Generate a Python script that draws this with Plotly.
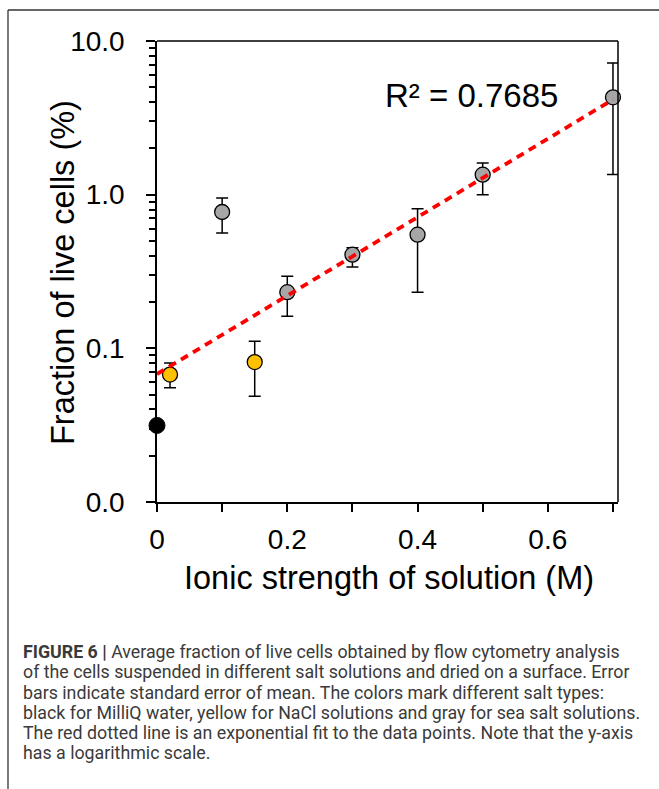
import plotly.graph_objects as go

# ---- data ----
water_x = [0.0]
water_y = [0.0315]

nacl_x = [0.02, 0.15]
nacl_y = [0.0675, 0.0814]
nacl_err_plus = [0.0127, 0.0296]
nacl_err_minus = [0.0120, 0.0327]

sea_x = [0.1, 0.2, 0.3, 0.4, 0.5, 0.7]
sea_y = [0.771, 0.232, 0.407, 0.549, 1.35, 4.30]
sea_err_plus = [0.179, 0.062, 0.045, 0.262, 0.26, 2.88]
sea_err_minus = [0.209, 0.070, 0.069, 0.317, 0.35, 2.945]

fit_x = [0.0, 0.7]
fit_y = [0.068, 4.16]

y_tickvals = [0.01, 0.1, 1, 10]
y_ticktext = ["0.0", "0.1", "1.0", "10.0"]
x_tickvals = [0, 0.2, 0.4, 0.6]
x_ticktext = ["0", "0.2", "0.4", "0.6"]
x_minor = [0.1, 0.3, 0.5, 0.7]

r2_text = "R² = 0.7685"
x_title = "Ionic strength of solution (M)"
y_title = "Fraction of live cells (%)"
caption_lines = [
    "<b>FIGURE 6 |</b> Average fraction of live cells obtained by flow cytometry analysis",
    "of the cells suspended in different salt solutions and dried on a surface. Error",
    "bars indicate standard error of mean. The colors mark different salt types:",
    "black for MilliQ water, yellow for NaCl solutions and gray for sea salt solutions.",
    "The red dotted line is an exponential fit to the data points. Note that the y-axis",
    "has a logarithmic scale.",
]

W, H = 659, 789
L, R, T, B = 157, 41, 41, 287
pw, ph = W - L - R, H - T - B


def px(xp):
    return (xp - L) / pw


def py(yp):
    return (H - B - yp) / ph


y_minor = [k * 10 ** d for d in (-2, -1, 0) for k in range(2, 10)]

fig = go.Figure()

err_style = dict(type="data", color="black", thickness=1.5, width=6)

fig.add_trace(go.Scatter(
    x=sea_x, y=sea_y, mode="markers",
    marker=dict(size=15, color="#A6A6A6", line=dict(color="black", width=1.3)),
    error_y=dict(array=sea_err_plus, arrayminus=sea_err_minus, symmetric=False, **err_style),
    cliponaxis=False, showlegend=False,
))
fig.add_trace(go.Scatter(
    x=nacl_x, y=nacl_y, mode="markers",
    marker=dict(size=15, color="#FFC000", line=dict(color="black", width=1.3)),
    error_y=dict(array=nacl_err_plus, arrayminus=nacl_err_minus, symmetric=False, **err_style),
    cliponaxis=False, showlegend=False,
))
fig.add_trace(go.Scatter(
    x=water_x, y=water_y, mode="markers",
    marker=dict(size=16, color="black", line=dict(color="black", width=1)),
    cliponaxis=False, showlegend=False,
))
fig.add_trace(go.Scatter(
    x=fit_x, y=fit_y, mode="lines",
    line=dict(color="#FF0000", width=3.8, dash="8px,6px"),
    cliponaxis=False, showlegend=False,
))

font_family = "Arial, Liberation Sans, sans-serif"
cap_font = "Roboto, Liberation Sans, sans-serif"

annotations = [
    dict(text=r2_text, xref="paper", yref="paper", x=px(471), y=py(95),
         xanchor="center", yanchor="middle", showarrow=False,
         font=dict(size=33, color="black", family=font_family)),
    dict(text=x_title, xref="paper", yref="paper", x=px(389), y=py(578),
         xanchor="center", yanchor="middle", showarrow=False,
         font=dict(size=32.5, color="black", family=font_family)),
    dict(text=y_title, xref="paper", yref="paper", x=px(63), y=py(273),
         xanchor="center", yanchor="middle", showarrow=False, textangle=-90,
         font=dict(size=32.5, color="black", family=font_family)),
]
line_y0, line_dy = 651.7, 20.2
for i, txt in enumerate(caption_lines):
    annotations.append(dict(
        text=txt, xref="paper", yref="paper", x=px(21), y=py(line_y0 + i * line_dy),
        xanchor="left", yanchor="middle", align="left", showarrow=False,
        font=dict(size=17.8, color="#3a3a3a", family=cap_font)))

fig.update_layout(
    width=W, height=H,
    margin=dict(l=L, r=R, t=T, b=B),
    paper_bgcolor="white", plot_bgcolor="white",
    font=dict(family=font_family, color="black"),
    xaxis=dict(
        range=[0, 0.7077], tickmode="array", tickvals=x_tickvals, ticktext=x_ticktext,
        ticks="outside", ticklen=8, tickwidth=1.5, tickcolor="black",
        minor=dict(tickvals=x_minor, ticks="outside", ticklen=8, tickwidth=1.5, tickcolor="black"),
        showline=True, linecolor="black", linewidth=1.5, mirror=False,
        showgrid=False, zeroline=False,
        tickfont=dict(size=28, color="black"), ticklabelstandoff=4,
    ),
    yaxis=dict(
        type="log", range=[-2, 1], tickmode="array", tickvals=y_tickvals, ticktext=y_ticktext,
        ticks="outside", ticklen=9, tickwidth=1.5, tickcolor="black",
        minor=dict(tickvals=y_minor, ticks="outside", ticklen=6, tickwidth=1.5, tickcolor="black"),
        showline=True, linecolor="black", linewidth=1.5, mirror=False,
        showgrid=False, zeroline=False,
        tickfont=dict(size=28, color="black"), ticklabelstandoff=16,
    ),
    shapes=[
        dict(type="line", xref="paper", yref="paper", x0=0, x1=1, y0=1, y1=1,
             line=dict(color="black", width=1.5)),
        dict(type="line", xref="paper", yref="paper", x0=1, x1=1, y0=0, y1=1,
             line=dict(color="black", width=1.5)),
        dict(type="line", xref="paper", yref="paper", x0=px(8), x1=px(659), y0=py(10), y1=py(10),
             line=dict(color="#333333", width=1.3)),
        dict(type="line", xref="paper", yref="paper", x0=px(8), x1=px(8), y0=py(10), y1=py(789),
             line=dict(color="#333333", width=1.3)),
    ],
    annotations=annotations,
)

fig.write_html("out.html", config={"displayModeBar": False},
               post_script="document.body.style.margin='0px';")
